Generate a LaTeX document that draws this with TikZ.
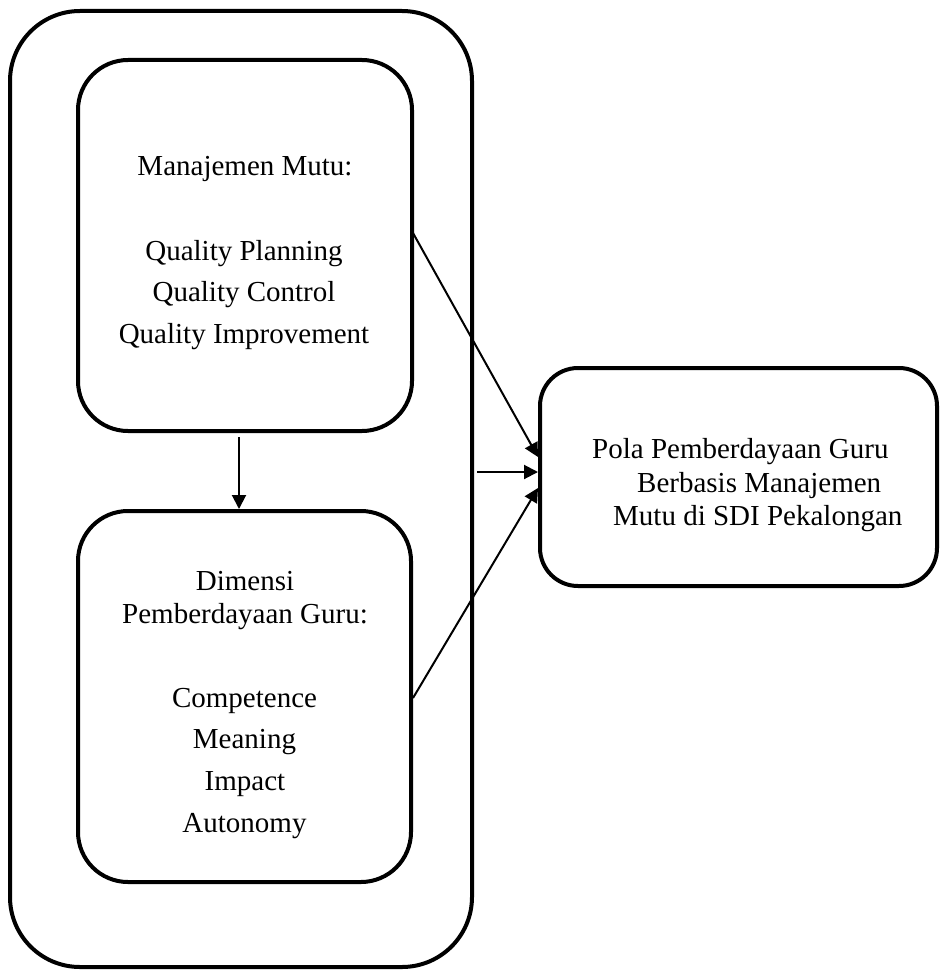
\documentclass[tikz,border=0pt]{standalone}
\usepackage{fontspec}
\setmainfont{Liberation Serif}
\usetikzlibrary{arrows.meta}

\tikzset{
  boxframe/.style={draw, line width=4pt, rectangle, inner sep=0pt},
  label/.style={inner sep=0pt, font=\fontsize{29}{33}\selectfont},
  flow/.style={line width=2pt, -{Triangle[length=14pt,width=14pt]}}
}

\begin{document}
\begin{tikzpicture}[x=1pt,y=-1pt]
\useasboundingbox (0,0) rectangle (940,971);

% frames
\node[boxframe, rounded corners=70pt, minimum width=462pt, minimum height=956pt] (outer) at (241,489) {};
\node[boxframe, rounded corners=50pt, minimum width=334pt, minimum height=371pt] (mutu) at (245,245.5) {};
\node[boxframe, rounded corners=50pt, minimum width=333pt, minimum height=371pt] (dimensi) at (244.5,696.5) {};
\node[boxframe, rounded corners=38pt, minimum width=397pt, minimum height=218pt] (pola) at (738.5,477) {};

% text of the upper box
\node[label, anchor=base] (t1) at (245,175) {Manajemen Mutu:};
\node[label, anchor=base] (t2) at (244,260) {Quality Planning};
\node[label, anchor=base] (t3) at (244,301) {Quality Control};
\node[label, anchor=base] (t4) at (244,343) {Quality Improvement};

% text of the lower box
\node[label, anchor=base] (d1) at (245,590) {Dimensi};
\node[label, anchor=base] (d2) at (245,623) {Pemberdayaan Guru:};
\node[label, anchor=base] (d3) at (244.5,707) {Competence};
\node[label, anchor=base] (d4) at (244.5,748) {Meaning};
\node[label, anchor=base] (d5) at (245,790) {Impact};
\node[label, anchor=base] (d6) at (244.5,832) {Autonomy};

% text of the result box
\node[label, anchor=base west] (p1) at (592,458) {Pola Pemberdayaan Guru};
\node[label, anchor=base west] (p2) at (637,492) {Berbasis Manajemen};
\node[label, anchor=base west] (p3) at (613,525) {Mutu di SDI Pekalongan};

% connector ends
\coordinate (a1s) at (413,233);
\coordinate (a1e) at (538,457);
\coordinate (a2s) at (477,472);
\coordinate (a2e) at (538,472);
\coordinate (a3s) at (413,698);
\coordinate (a3e) at (538,488);
\coordinate (dns) at (239,437);
\coordinate (dne) at (239,509);

\draw[flow] (a1s) -- (a1e);
\draw[flow] (a2s) -- (a2e);
\draw[flow] (a3s) -- (a3e);
\draw[flow] (dns) -- (dne);
\end{tikzpicture}
\end{document}
